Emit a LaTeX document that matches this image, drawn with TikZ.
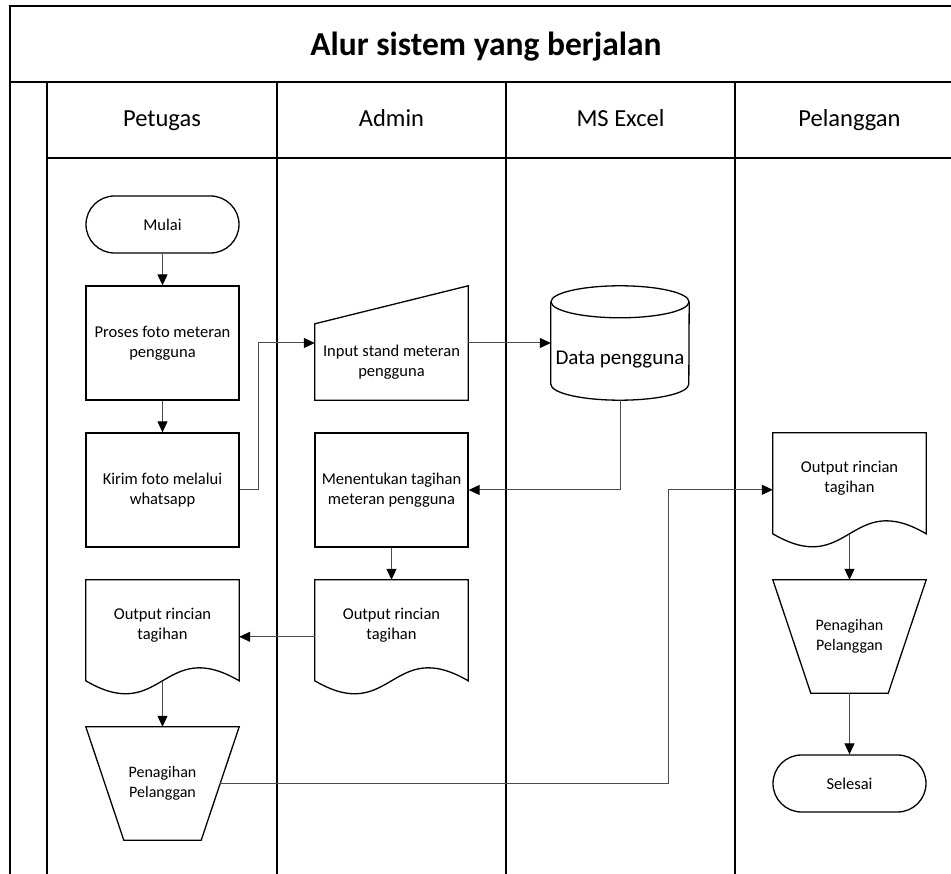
\documentclass[tikz,border=0pt]{standalone}
\usepackage{fontspec}
\setmainfont{Carlito}
\usetikzlibrary{arrows.meta,calc}

% outline of a document symbol: flat top, wavy bottom 101 below the top edge
\newcommand\docoutline[1]{%
  \draw[shapeline] (#1.north west) -- (#1.north east) -- ($(#1.north east)+(0,101)$)
    .. controls ($(#1.north)+(0,56)$) and ($(#1.north)+(0,146)$) .. ($(#1.north west)+(0,101)$) -- cycle;}
% outline of a manual operation symbol (inverted trapezium)
\newcommand\manualop[1]{%
  \draw[shapeline] (#1.north west) -- (#1.north east) -- ($(#1.south east)+(-38,0)$)
    -- ($(#1.south west)+(38,0)$) -- cycle;}

\begin{document}
\begin{tikzpicture}[x=1pt,y=-1pt,
  lane/.style={line width=1.8pt,black},
  shapeline/.style={line width=1.3pt,black},
  flow/.style={line width=1pt,black!70,-{Triangle[length=11pt,width=10pt,color=black]}},
  txt/.style={font=\fontsize{16.5}{20}\selectfont,align=center,inner sep=0pt},
  procbox/.style={txt,draw,shapeline,minimum width=153,minimum height=114},
  term/.style={txt,draw,shapeline,rounded corners=28.5pt,minimum width=153,minimum height=57},
  hollow/.style={txt,minimum width=153,minimum height=90},
  trapbox/.style={txt,font=\fontsize{16}{19.5}\selectfont,minimum width=153,minimum height=113},
  header/.style={font=\fontsize{24.5}{28}\selectfont,anchor=base}
]
\useasboundingbox (0,0) rectangle (951,874);
\clip (0,0) rectangle (951,874);

% swimlane frame
\draw[lane] (10,874) -- (10,6) -- (964,6);
\draw[lane] (10,82) -- (964,82);
\draw[lane] (47,158) -- (964,158);
\foreach \x in {47,277,506,735} \draw[lane] (\x,82) -- (\x,874);

\node[font=\fontsize{33.5}{40}\selectfont\bfseries,anchor=base] (title) at (486,56) {Alur sistem yang berjalan};
\node[header] (hpet) at (162,127) {Petugas};
\node[header] (hadm) at (391.5,127) {Admin};
\node[header] (hxls) at (620.5,127) {MS Excel};
\node[header] (hpel) at (849.5,127) {Pelanggan};

% Petugas
\node[term] (mulai) at (162.5,224.5) {Mulai};
\node[procbox] (proses) at (162.5,343) {Proses foto meteran\\pengguna};
\node[procbox] (kirim) at (162.5,490) {Kirim foto melalui\\whatsapp};
\node[hollow] (outpet) at (162.5,625) {Output rincian\\tagihan};
\docoutline{outpet}
\node[trapbox] (penpet) at (162.5,783.5) {Penagihan\\Pelanggan};
\manualop{penpet}

% Admin
\node[hollow,minimum height=114] (input) at (391.5,343) {};
\draw[shapeline] (input.south west) -- (input.south east) -- (input.north east)
  -- ($(input.north west)+(0,38)$) -- cycle;
\node[txt] (inputlbl) at (391.5,362) {Input stand meteran\\pengguna};
\node[procbox] (tentukan) at (391.5,490) {Menentukan tagihan\\meteran pengguna};
\node[hollow] (outadm) at (391.5,625) {Output rincian\\tagihan};
\docoutline{outadm}

% MS Excel
\node[hollow,minimum width=138,minimum height=114] (data) at (620,343) {};
\draw[shapeline] ($(data.north west)+(0,16)$) -- ($(data.south west)+(0,-16)$)
  arc[start angle=180,end angle=360,x radius=69pt,y radius=16pt]
  -- ($(data.north east)+(0,16)$);
\draw[shapeline] ($(data.north)+(0,16)$) ellipse[x radius=69pt,y radius=16pt];
\node[font=\fontsize{21}{25}\selectfont] (datalbl) at (620,360) {Data pengguna};

% Pelanggan
\node[hollow] (outpel) at (849.5,478) {Output rincian\\tagihan};
\docoutline{outpel}
\node[trapbox] (penpel) at (849.5,636.5) {Penagihan\\Pelanggan};
\manualop{penpel}
\node[term] (selesai) at (849.5,783.5) {Selesai};

% connector end points on the drawn outlines
\coordinate (outpetb) at ($(outpet.north)+(0,101)$);
\coordinate (outpete) at ($(outpet.north east)+(0,57)$);
\coordinate (outadmw) at ($(outadm.north west)+(0,57)$);
\coordinate (outpelw) at ($(outpel.north west)+(0,57)$);
\coordinate (outpelb) at ($(outpel.north)+(0,101)$);
\coordinate (penpetr) at ($(penpet.east)+(-19,0)$);

% flow
\draw[flow] (mulai.south) -- (proses.north);
\draw[flow] (proses.south) -- (kirim.north);
\draw[flow] (kirim.east) -- ++(19,0) |- (input.west);
\draw[flow] (input.east) -- (data.west);
\draw[flow] (data.south) |- (tentukan.east);
\draw[flow] (tentukan.south) -- (outadm.north);
\draw[flow] (outadmw) -- (outpete);
\draw[flow] (outpetb) -- (penpet.north);
\draw[flow] (penpetr) -| ($(outpelw)+(-104,0)$) -- (outpelw);
\draw[flow] (outpelb) -- (penpel.north);
\draw[flow] (penpel.south) -- (selesai.north);
\end{tikzpicture}
\end{document}
